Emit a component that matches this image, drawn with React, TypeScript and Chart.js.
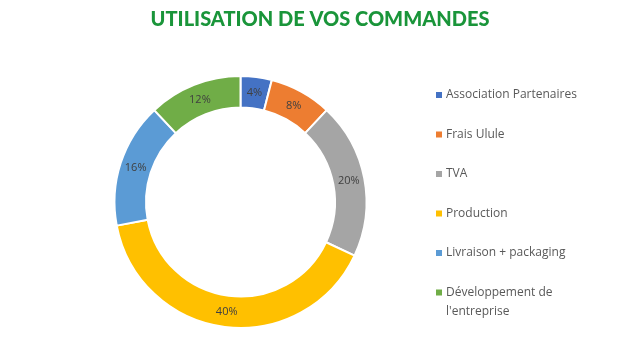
import React, { useEffect, useRef } from "react";
import { Chart, registerables } from "chart.js";

Chart.register(...registerables);

const TITLE = "UTILISATION DE VOS COMMANDES";
const categories = [
  "Association Partenaires",
  "Frais Ulule",
  "TVA",
  "Production",
  "Livraison + packaging",
  "Développement de l'entreprise",
];
const values = [4, 8, 20, 40, 16, 12];
const colors = ["#4472C4", "#ED7D31", "#A5A5A5", "#FFC000", "#5B9BD5", "#70AD47"];

const FONT = "'Open Sans', 'Liberation Sans', sans-serif";

function wrap(ctx: CanvasRenderingContext2D, text: string, maxW: number): string[] {
  const words = text.split(" ");
  const lines: string[] = [];
  let cur = "";
  for (const w of words) {
    const t = cur ? cur + " " + w : w;
    if (ctx.measureText(t).width > maxW && cur) {
      lines.push(cur);
      cur = w;
    } else cur = t;
  }
  if (cur) lines.push(cur);
  return lines;
}

const overlayPlugin = {
  id: "overlay",
  afterDraw(chart: any) {
    const ctx: CanvasRenderingContext2D = chart.ctx;
    ctx.save();
    // Title
    ctx.font = `900 20px Lato, ${FONT}`;
    ctx.fillStyle = "#1A953A";
    ctx.textAlign = "center";
    ctx.textBaseline = "middle";
    ctx.fillText(TITLE, 320, 20);

    // Data labels
    const meta = chart.getDatasetMeta(0);
    const total = values.reduce((a, b) => a + b, 0);
    ctx.font = `11px ${FONT}`;
    ctx.fillStyle = "#404040";
    meta.data.forEach((arc: any, i: number) => {
      const p = arc.getProps(["x", "y", "startAngle", "endAngle", "innerRadius", "outerRadius"], true);
      const a = (p.startAngle + p.endAngle) / 2;
      const r = (p.innerRadius + p.outerRadius) / 2;
      const pct = Math.round((values[i] / total) * 100) + "%";
      ctx.fillText(pct, p.x + Math.cos(a) * r, p.y + Math.sin(a) * r);
    });

    // Legend
    ctx.textAlign = "left";
    ctx.font = `12px ${FONT}`;
    const labels = chart.data.labels as string[];
    labels.forEach((lab, i) => {
      const y = 95 + i * 39.5;
      ctx.fillStyle = colors[i];
      ctx.fillRect(436, y - 3, 6, 6);
      ctx.fillStyle = "#595959";
      const lines = wrap(ctx, lab, 140);
      lines.forEach((ln, j) => ctx.fillText(ln, 446, y + j * 19));
    });
    ctx.restore();
  },
};

export default function App() {
  const ref = useRef<HTMLCanvasElement>(null);
  useEffect(() => {
    document.body.style.margin = "0";
    const chart = new Chart(ref.current!, {
      type: "doughnut",
      data: {
        labels: categories,
        datasets: [
          {
            data: values,
            backgroundColor: colors,
            borderColor: "#ffffff",
            borderWidth: 2,
          },
        ],
      },
      options: {
        animation: false,
        responsive: false,
        cutout: "75%",
        layout: { padding: { left: 113, right: 272, top: 75, bottom: 31 } },
        plugins: {
          legend: { display: false },
          title: { display: false },
          tooltip: { enabled: false },
        },
      },
      plugins: [overlayPlugin],
    });
    return () => chart.destroy();
  }, []);
  return (
    <div style={{ width: 640, height: 360, background: "#fff" }}>
      <canvas ref={ref} width={640} height={360} />
    </div>
  );
}
